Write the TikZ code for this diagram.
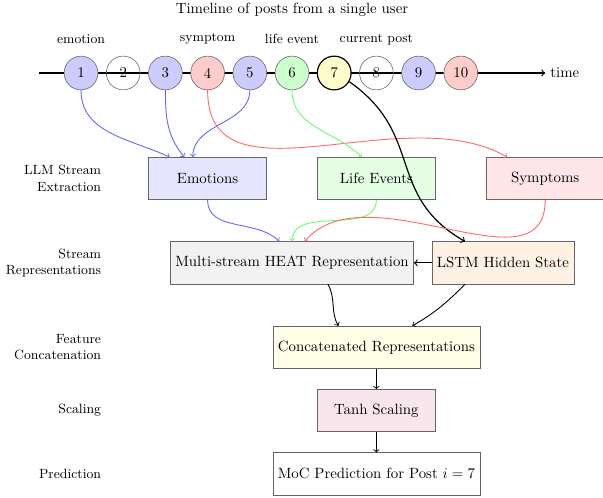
\documentclass[tikz,border=0pt]{standalone}
\usepackage{amsmath}
\usepackage{tikz}

\begin{document}
\begin{tikzpicture}[
    % posts on the timeline
    postNode/.style={circle, draw=black!60, minimum size=0.8cm, inner sep=0pt, font=\normalsize},
    tagLabel/.style={font=\small},
    stageLabel/.style={font=\small, anchor=east, align=right},
    % boxes of the pipeline
    boxNode/.style={rectangle, draw=black!60, minimum width=2.8cm, minimum height=1cm, font=\normalsize},
    arrowEmotion/.style={->, color=blue!60, semithick},
    arrowLife/.style={->, color=green!60, semithick},
    arrowSymptom/.style={->, color=red!60, semithick},
    arrowMain/.style={->, color=black, thick},
    arrowStep/.style={->, color=black, semithick}
]
    \useasboundingbox (-0.92,-10.05) rectangle (13.37,1.73);

    % --- TIMELINE ---
    \node (title) at (6,1.5) {Timeline of posts from a single user};
    \coordinate (tStart) at (0,0);
    \coordinate (tEnd) at (12,0);
    \draw[->, thick] (tStart) -- (tEnd);
    \node[right] (timeLbl) at (tEnd) {time};

    \node[postNode, fill=blue!20]  (p1)  at (1,0)  {1};
    \node[postNode]                (p2)  at (2,0)  {2};
    \node[postNode, fill=blue!20]  (p3)  at (3,0)  {3};
    \node[postNode, fill=red!20]   (p4)  at (4,0)  {4};
    \node[postNode, fill=blue!20]  (p5)  at (5,0)  {5};
    \node[postNode, fill=green!20] (p6)  at (6,0)  {6};
    \node[postNode, fill=yellow!20, draw=black, thick] (p7) at (7,0) {7};
    \node[postNode]                (p8)  at (8,0)  {8};
    \node[postNode, fill=blue!20]  (p9)  at (9,0)  {9};
    \node[postNode, fill=red!20]   (p10) at (10,0) {10};

    \node[tagLabel] (tagEmo)  at (1,0.8) {emotion};
    \node[tagLabel] (tagSym)  at (4,0.8) {symptom};
    \node[tagLabel] (tagLife) at (6,0.8) {life event};
    \node[tagLabel] (tagCur)  at (8,0.8) {current post};

    % --- STAGES ---
    \node[stageLabel] (lblLLM)    at (1.6,-2.5) {LLM Stream\\Extraction};
    \node[stageLabel] (lblStream) at (1.6,-4.5) {Stream\\Representations};
    \node[stageLabel] (lblConcat) at (1.6,-6.5) {Feature\\Concatenation};
    \node[stageLabel] (lblScale)  at (1.6,-8)   {Scaling};
    \node[stageLabel] (lblPred)   at (1.6,-9.5) {Prediction};

    \node[boxNode, fill=blue!10]   (emo)    at (4,-2.5)  {Emotions};
    \node[boxNode, fill=green!10]  (life)   at (8,-2.5)  {Life Events};
    \node[boxNode, fill=red!10]    (sym)    at (12,-2.5) {Symptoms};
    \node[boxNode, fill=gray!10]   (heat)   at (6,-4.5)  {Multi-stream HEAT Representation};
    \node[boxNode, fill=orange!10] (lstm)   at (11,-4.5) {LSTM Hidden State};
    \node[boxNode, fill=yellow!10] (concat) at (8,-6.5)  {Concatenated Representations};
    \node[boxNode, fill=purple!10] (tanh)   at (8,-8)    {Tanh Scaling};
    \node[boxNode, fill=white]     (pred)   at (8,-9.5)  {MoC Prediction for Post $i=7$};

    % --- POSTS TO STREAMS ---
    \draw[arrowEmotion] (p1.south) to[out=-90, in=155] ([xshift=-9mm]emo.north);
    \draw[arrowEmotion] (p3.south) to[out=-90, in=130] ([xshift=-5.5mm]emo.north);
    \draw[arrowEmotion] (p5.south) to[out=-90, in=90] ([xshift=-3.5mm]emo.north);
    \draw[arrowSymptom] (p4.south) to[out=-90, in=150] ([xshift=-9mm]sym.north);
    \draw[arrowLife]    (p6.south) to[out=-90, in=135] ([xshift=-3.5mm]life.north);
    \draw[arrowMain]    (p7.-30) to[out=-35, in=150, looseness=1.2] ([xshift=-9mm]lstm.north);

    % --- STREAMS TO REPRESENTATION ---
    \draw[arrowEmotion] (emo.south) to[out=-90, in=135] ([xshift=-3mm]heat.north);
    \draw[arrowLife]    (life.south) to[out=-90, in=90] (heat.north);
    \draw[arrowSymptom] (sym.south) to[out=-90, in=50] ([xshift=3mm]heat.north);
    \draw[arrowMain]    (lstm.west) -- (heat.east);

    % --- FINAL STEPS ---
    \draw[arrowStep] ([xshift=8.5mm]heat.south) to[out=-60, in=120] ([xshift=-9mm]concat.north);
    \draw[arrowStep] ([xshift=-9mm]lstm.south) to[out=-135, in=30] ([xshift=8.5mm]concat.north);
    \draw[arrowStep] (concat) -- (tanh);
    \draw[arrowStep] (tanh) -- (pred);

\end{tikzpicture}
\end{document}
